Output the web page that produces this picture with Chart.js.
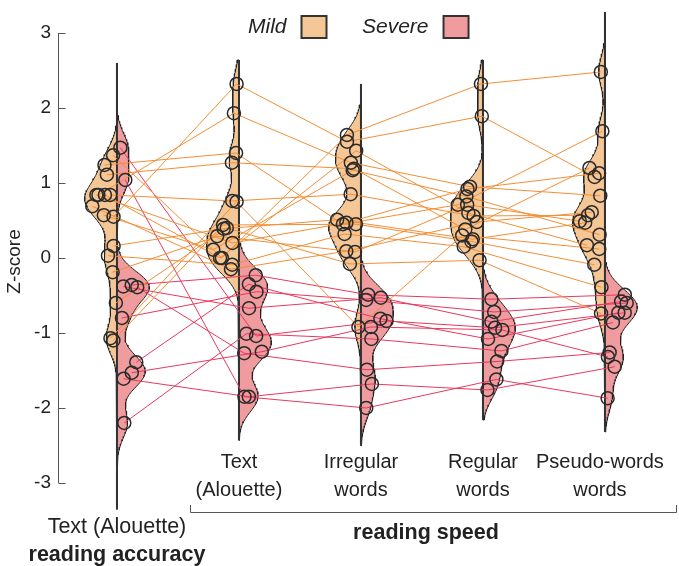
<!DOCTYPE html>
<html>
<head>
<meta charset="utf-8">
<script src="https://cdn.jsdelivr.net/npm/chart.js@4.4.1/dist/chart.umd.min.js"></script>
<style>
  body { margin: 0; background: #fff; }
</style>
</head>
<body>
<canvas id="myChart" width="679" height="566"></canvas>
<script>
const categories = [["Text (Alouette)"], ["Text", "(Alouette)"], ["Irregular", "words"], ["Regular", "words"], ["Pseudo-words", "words"]];
const groupNames = ["Mild", "Severe"];
const yTicks = [-3, -2, -1, 0, 1, 2, 3];

// one row per child: accuracy, then speed for text / irregular / regular / pseudo-words (Z-score)
const mildScores = [
  [0.55, 2.32, 1.55, 1.89, 1.08],
  [0.84, 1.93, 1.27, 0.95, 0.83],
  [1.37, 0.00, 1.64, 2.32, 2.48],
  [1.24, 1.40, 0.45, 0.71, 1.69],
  [1.11, 1.27, 1.19, 0.38, 1.20],
  [0.84, 0.76, 0.85, 0.56, 0.57],
  [0.84, 0.20, 0.47, 0.92, 1.13],
  [0.84, 0.00, 1.43, 0.60, 0.17],
  [0.69, -0.15, 0.09, 0.48, 0.61],
  [0.57, 0.11, 1.17, 0.82, 0.31],
  [0.16, 0.39, 0.51, 0.25, 0.47],
  [0.03, -0.09, 0.32, 0.15, -0.39],
  [-0.19, 0.29, 0.08, 0.71, 0.49],
  [-0.60, 0.40, -0.08, -0.03, -0.74],
  [-1.07, 0.75, -0.92, 0.30, 0.12],
  [-1.10, 0.44, 0.45, 0.22, -0.09]
];
const severeScores = [
  [1.47, -1.04, -0.84, -0.93, -0.73],
  [1.04, -1.85, -2.00, -1.62, -1.87],
  [-0.36, -0.23, -0.49, -0.55, -0.49],
  [-0.38, -0.67, -0.53, -0.85, -0.58],
  [-0.39, -1.27, -1.49, -1.38, -1.26],
  [-0.80, -0.45, -0.56, -0.72, -0.60],
  [-1.39, -0.35, -0.81, -1.08, -0.73],
  [-1.53, -1.25, -0.92, -0.96, -1.32],
  [-1.61, -1.85, -1.68, -1.76, -1.45],
  [-2.20, -1.01, -1.08, -1.24, -0.86]
];
// extent of each violin's centre line
const stemTop = [2.6, 2.64, 2.32, 2.64, 3.28];
const stemBottom = [-3.35, -2.43, -2.5, -2.16, -2.32];

const fillColors = ["#F6C796", "#F09B9D"];
const lineColors = ["#F28E35", "#E6395E"];
const BW = 0.2;      // kernel bandwidth
const HALF = 0.265;  // widest half-violin, in x units

function density(vals, z) {
  let s = 0;
  for (const v of vals) {
    const u = (z - v) / BW;
    s += Math.exp(-0.5 * u * u);
  }
  return s;
}

const groups = [mildScores, severeScores];
const datasets = [];
const widthFns = [];

// violins
groups.forEach((scores, g) => {
  const sign = g === 0 ? -1 : 1;
  widthFns[g] = [];
  for (let c = 0; c < categories.length; c++) {
    const vals = scores.map(r => r[c]);
    const zs = [];
    for (let z = stemTop[c]; z >= stemBottom[c]; z -= 0.02) zs.push(z);
    zs.push(stemBottom[c]);
    const dmax = Math.max(...zs.map(z => density(vals, z)));
    widthFns[g][c] = z => HALF * density(vals, z) / dmax;
    const pts = [{ x: c, y: stemTop[c] }];
    zs.forEach(z => pts.push({ x: c + sign * widthFns[g][c](z), y: z }));
    pts.push({ x: c, y: stemBottom[c] });
    datasets.push({
      data: pts,
      showLine: true,
      fill: "shape",
      backgroundColor: fillColors[g],
      borderColor: "#222",
      borderWidth: 1,
      pointRadius: 0,
      order: 4
    });
  }
});

// centre lines
for (let c = 0; c < categories.length; c++) {
  datasets.push({
    data: [{ x: c, y: stemTop[c] }, { x: c, y: stemBottom[c] }],
    showLine: true,
    borderColor: "#333",
    borderWidth: 2,
    pointRadius: 0,
    order: 3
  });
}

// children: connecting lines and circles
groups.forEach((scores, g) => {
  const sign = g === 0 ? -1 : 1;
  const dots = [];
  scores.forEach((row, i) => {
    const pts = row.map((v, c) => {
      const f = 0.15 + 0.7 * ((i * 0.618034 + c * 0.37 + g * 0.21) % 1);
      return { x: c + sign * widthFns[g][c](v) * f, y: v };
    });
    dots.push(...pts);
    datasets.push({
      data: pts,
      showLine: true,
      borderColor: lineColors[g],
      borderWidth: 1,
      pointRadius: 0,
      order: 2
    });
  });
  datasets.push({
    data: dots,
    showLine: false,
    pointRadius: 6.5,
    pointBorderWidth: 1.5,
    pointBorderColor: "#2a2a2a",
    pointBackgroundColor: "rgba(0,0,0,0)",
    order: 1
  });
});

const decor = {
  id: "decor",
  afterDraw(chart) {
    const { ctx, scales: { x, y } } = chart;
    ctx.save();
    // axis line with inward ticks
    const ax = chart.chartArea.left - 1.5;
    ctx.strokeStyle = "#555";
    ctx.lineWidth = 1;
    ctx.beginPath();
    ctx.moveTo(ax, y.getPixelForValue(3));
    ctx.lineTo(ax, y.getPixelForValue(-3));
    yTicks.forEach(v => {
      const py = Math.round(y.getPixelForValue(v)) + 0.5;
      ctx.moveTo(ax, py);
      ctx.lineTo(ax + 7, py);
    });
    ctx.stroke();

    // legend
    ctx.font = "italic 21px 'Liberation Sans', Arial, sans-serif";
    ctx.textBaseline = "middle";
    ctx.textAlign = "left";
    const legX = [248, 362];
    groupNames.forEach((name, g) => {
      ctx.fillStyle = "#222";
      ctx.fillText(name, legX[g], 27);
      const bx = legX[g] + ctx.measureText(name).width + 15;
      ctx.fillStyle = fillColors[g];
      ctx.fillRect(bx, 16, 25, 22);
      ctx.strokeStyle = "#333";
      ctx.lineWidth = 2;
      ctx.strokeRect(bx, 16, 25, 22);
    });

    // category labels
    ctx.fillStyle = "#222";
    ctx.textAlign = "center";
    categories.forEach((lines, c) => {
      const px = x.getPixelForValue(c) - (c === 4 ? 5 : 0);
      const y0 = c === 0 ? 527 : 462;
      ctx.font = (c === 0 ? "21.5px" : "20px") + " 'Liberation Sans', Arial, sans-serif";
      lines.forEach((t, k) => ctx.fillText(t, px, y0 + k * 28));
    });
    ctx.font = "bold 21.5px 'Liberation Sans', Arial, sans-serif";
    ctx.fillText("reading accuracy", x.getPixelForValue(0), 555);
    ctx.fillText("reading speed", 426, 533);

    // bracket under the speed tasks
    ctx.strokeStyle = "#555";
    ctx.lineWidth = 1;
    ctx.beginPath();
    ctx.moveTo(190.5, 505);
    ctx.lineTo(190.5, 512.5);
    ctx.lineTo(676.5, 512.5);
    ctx.lineTo(676.5, 505);
    ctx.stroke();
    ctx.restore();
  }
};

Chart.defaults.font.family = "'Liberation Sans', Arial, sans-serif";

new Chart(document.getElementById("myChart"), {
  type: "scatter",
  data: { datasets: datasets },
  options: {
    responsive: false,
    animation: false,
    devicePixelRatio: 1,
    events: [],
    layout: { autoPadding: false, padding: { top: 8, bottom: 51, left: 0, right: 0 } },
    plugins: { legend: { display: false }, tooltip: { enabled: false } },
    scales: {
      x: { type: "linear", display: false, min: -0.467, max: 4.607 },
      y: {
        min: -3.427,
        max: 3.333,
        afterBuildTicks: s => { s.ticks = yTicks.map(v => ({ value: v })); },
        afterFit: s => { s.width = 60; s.paddingTop = 0; s.paddingBottom = 0; },
        grid: { display: false, drawTicks: false },
        border: { display: false },
        ticks: { padding: 9, color: "#222", font: { size: 19 } },
        title: { display: true, text: "Z-score", color: "#222", font: { size: 19 }, padding: { top: 3, bottom: 0 } }
      }
    }
  },
  plugins: [decor]
});
</script>
</body>
</html>
